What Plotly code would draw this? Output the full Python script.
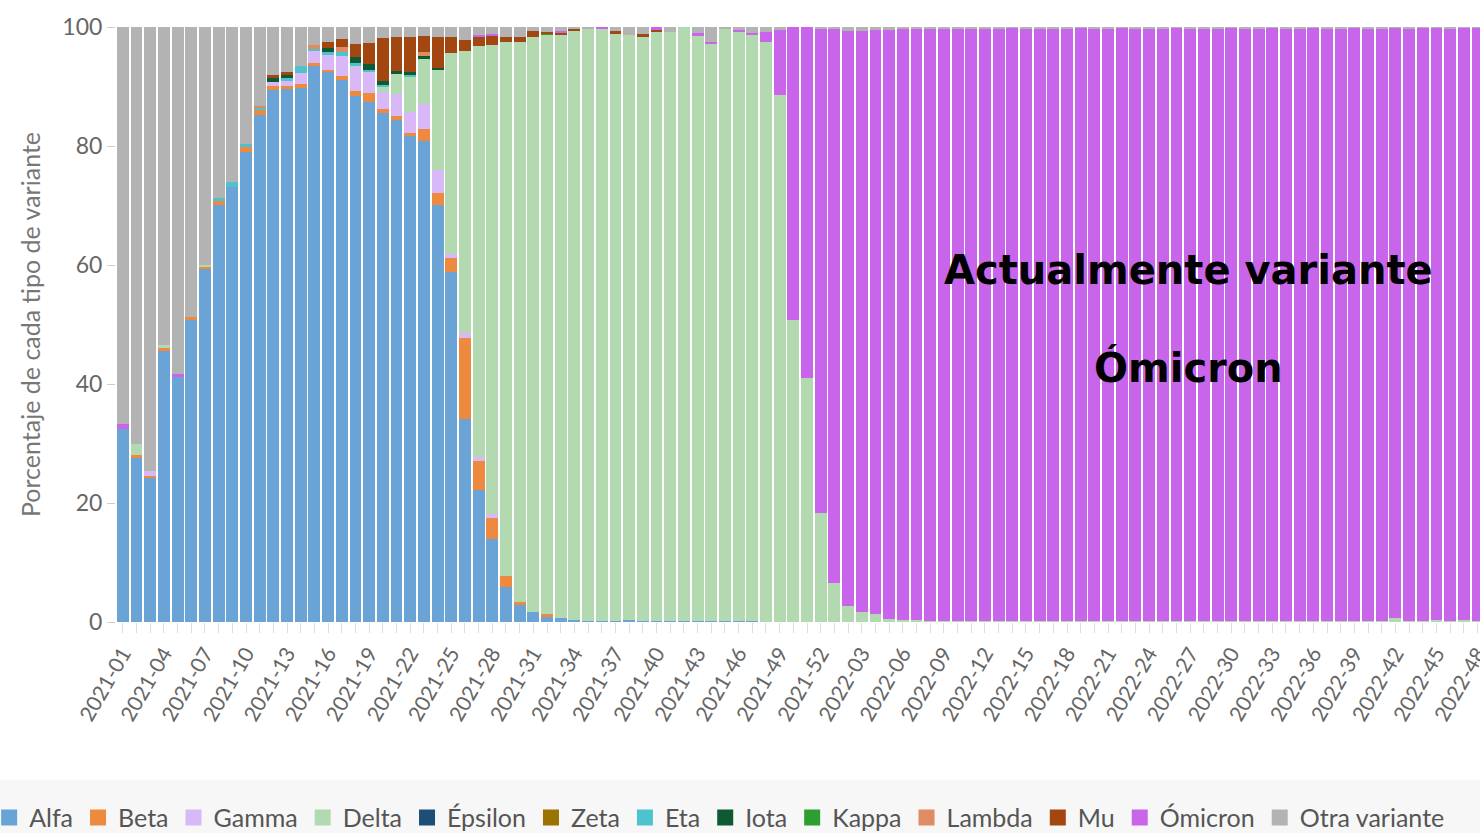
import plotly.graph_objects as go

# ---------------- data ----------------
weeks = [f"2021-{w:02d}" for w in range(1, 53)] + [f"2022-{w:02d}" for w in range(1, 49)]
tick_text = [w if i % 3 == 0 else "" for i, w in enumerate(weeks)]

alfa = [32.5, 27.5, 24.2, 45.6, 41.2, 50.8, 59.3, 70.1, 73.1, 79.0,
        85.2, 89.4, 89.5, 89.8, 93.5, 92.4, 91.1, 88.4, 87.4, 85.6,
        84.4, 81.6, 80.8, 70.1, 58.8, 34.2, 22.2, 13.9, 5.9, 3.0,
        1.6, 1.0, 0.6, 0.3, 0.2, 0.2, 0.2, 0.3, 0.2, 0.2,
        0.1, 0.2, 0.1, 0.1, 0.1, 0.1, 0.1, 0, 0, 0,
        0, 0, 0, 0, 0, 0, 0, 0, 0, 0,
        0, 0, 0, 0, 0, 0, 0, 0, 0, 0,
        0, 0, 0, 0, 0, 0, 0, 0, 0, 0,
        0, 0, 0, 0, 0, 0, 0, 0, 0, 0,
        0, 0, 0, 0, 0, 0, 0, 0, 0, 0]
beta = [0, 0.5, 0.4, 0.5, 0, 0.4, 0.4, 0.6, 0, 0.8,
        0.8, 0.7, 0.6, 0.6, 0.5, 0.4, 0.6, 0.9, 1.5, 0.6,
        0.7, 0.6, 2.1, 2.0, 2.3, 13.6, 4.9, 3.5, 1.8, 0.3,
        0, 0.3, 0, 0, 0, 0, 0, 0, 0, 0,
        0, 0, 0, 0, 0, 0, 0, 0, 0, 0,
        0, 0, 0, 0, 0, 0, 0, 0, 0, 0,
        0, 0, 0, 0, 0, 0, 0, 0, 0, 0,
        0, 0, 0, 0, 0, 0, 0, 0, 0, 0,
        0, 0, 0, 0, 0, 0, 0, 0, 0, 0,
        0, 0, 0, 0, 0, 0, 0, 0, 0, 0]
gamma = [0, 0, 0.8, 0, 0, 0, 0, 0, 0, 0,
         0, 0.7, 0.9, 1.9, 1.9, 2.5, 3.5, 3.9, 3.5, 2.8,
         3.6, 3.5, 4.2, 3.8, 0.8, 0.7, 0.7, 0.8, 0, 0,
         0, 0, 0, 0, 0, 0, 0, 0, 0, 0,
         0, 0, 0, 0, 0, 0, 0, 0, 0, 0,
         0, 0, 0, 0, 0, 0, 0, 0, 0, 0,
         0, 0, 0, 0, 0, 0, 0, 0, 0, 0,
         0, 0, 0, 0, 0, 0, 0, 0, 0, 0,
         0, 0, 0, 0, 0, 0, 0, 0, 0, 0,
         0, 0, 0, 0, 0, 0, 0, 0, 0, 0]
delta = [0, 2.0, 0, 0.4, 0, 0, 0.3, 0, 0, 0,
         0, 0, 0, 0, 0, 0, 0, 0.4, 0, 1.0,
         3.4, 5.9, 7.6, 16.9, 33.7, 47.5, 69.0, 78.8, 89.7, 94.2,
         96.7, 97.4, 98.2, 99.0, 99.4, 99.4, 98.7, 98.4, 98.2, 99.0,
         99.1, 99.8, 98.4, 97.1, 99.7, 99.0, 98.6, 97.4, 88.6, 50.8,
         41.0, 18.3, 6.6, 2.7, 1.7, 1.3, 0.5, 0.4, 0.3, 0.2,
         0.2, 0.1, 0.1, 0.2, 0.1, 0.1, 0.1, 0.1, 0.2, 0.1,
         0.1, 0.1, 0.1, 0.1, 0.1, 0.1, 0.2, 0.1, 0.1, 0.1,
         0.1, 0.1, 0.1, 0.1, 0.1, 0.1, 0.1, 0.1, 0.1, 0.1,
         0.1, 0.1, 0.2, 0.6, 0.1, 0.1, 0.3, 0.1, 0.4, 0.1]
epsilon = [0, 0, 0, 0, 0, 0, 0, 0, 0, 0,
           0, 0, 0, 0, 0, 0, 0, 0, 0, 0,
           0, 0, 0, 0, 0, 0, 0, 0, 0, 0,
           0, 0, 0, 0, 0, 0, 0, 0, 0, 0,
           0, 0, 0, 0, 0, 0, 0, 0, 0, 0,
           0, 0, 0, 0, 0, 0, 0, 0, 0, 0,
           0, 0, 0, 0, 0, 0, 0, 0, 0, 0,
           0, 0, 0, 0, 0, 0, 0, 0, 0, 0,
           0, 0, 0, 0, 0, 0, 0, 0, 0, 0,
           0, 0, 0, 0, 0, 0, 0, 0, 0, 0]
zeta = [0, 0, 0, 0, 0, 0, 0, 0, 0, 0,
        0, 0, 0, 0, 0, 0, 0, 0, 0, 0,
        0, 0, 0, 0, 0, 0, 0, 0, 0, 0,
        0, 0, 0, 0, 0, 0, 0, 0, 0, 0,
        0, 0, 0, 0, 0, 0, 0, 0, 0, 0,
        0, 0, 0, 0, 0, 0, 0, 0, 0, 0,
        0, 0, 0, 0, 0, 0, 0, 0, 0, 0,
        0, 0, 0, 0, 0, 0, 0, 0, 0, 0,
        0, 0, 0, 0, 0, 0, 0, 0, 0, 0,
        0, 0, 0, 0, 0, 0, 0, 0, 0, 0]
eta = [0, 0, 0, 0, 0, 0, 0, 0.5, 0.8, 0.6,
       0.5, 0, 0.4, 1.2, 0.4, 0.5, 0.6, 0.3, 0.4, 0.3,
       0, 0.3, 0, 0, 0, 0, 0, 0, 0, 0,
       0, 0, 0, 0, 0, 0, 0, 0, 0, 0,
       0, 0, 0, 0, 0, 0, 0, 0, 0, 0,
       0, 0, 0, 0, 0, 0, 0, 0, 0, 0,
       0, 0, 0, 0, 0, 0, 0, 0, 0, 0,
       0, 0, 0, 0, 0, 0, 0, 0, 0, 0,
       0, 0, 0, 0, 0, 0, 0, 0, 0, 0,
       0, 0, 0, 0, 0, 0, 0, 0, 0, 0]
iota = [0, 0, 0, 0, 0, 0, 0, 0, 0, 0,
        0, 0.6, 0.5, 0, 0, 0.6, 0, 1.1, 0.9, 0.6,
        0.5, 0.5, 0.5, 0.3, 0, 0, 0, 0, 0, 0,
        0, 0, 0, 0, 0, 0, 0, 0, 0, 0,
        0, 0, 0, 0, 0, 0, 0, 0, 0, 0,
        0, 0, 0, 0, 0, 0, 0, 0, 0, 0,
        0, 0, 0, 0, 0, 0, 0, 0, 0, 0,
        0, 0, 0, 0, 0, 0, 0, 0, 0, 0,
        0, 0, 0, 0, 0, 0, 0, 0, 0, 0,
        0, 0, 0, 0, 0, 0, 0, 0, 0, 0]
kappa = [0, 0, 0, 0, 0, 0, 0, 0, 0, 0,
         0, 0, 0, 0, 0, 0, 0, 0, 0, 0,
         0, 0, 0, 0, 0, 0, 0, 0, 0, 0,
         0, 0.2, 0, 0, 0, 0, 0, 0, 0, 0,
         0, 0, 0, 0, 0, 0, 0, 0, 0, 0,
         0, 0, 0, 0, 0, 0, 0, 0, 0, 0,
         0, 0, 0, 0, 0, 0, 0, 0, 0, 0,
         0, 0, 0, 0, 0, 0, 0, 0, 0, 0,
         0, 0, 0, 0, 0, 0, 0, 0, 0, 0,
         0, 0, 0, 0, 0, 0, 0, 0, 0, 0]
lambda_ = [0, 0, 0, 0, 0, 0, 0, 0, 0, 0,
           0.3, 0, 0, 0, 0.6, 0, 0.9, 0, 0, 0,
           0, 0, 0.6, 0, 0, 0, 0, 0, 0, 0,
           0, 0, 0, 0, 0, 0, 0, 0, 0, 0,
           0, 0, 0, 0, 0, 0, 0, 0, 0, 0,
           0, 0, 0, 0, 0, 0, 0, 0, 0, 0,
           0, 0, 0, 0, 0, 0, 0, 0, 0, 0,
           0, 0, 0, 0, 0, 0, 0, 0, 0, 0,
           0, 0, 0, 0, 0, 0, 0, 0, 0, 0,
           0, 0, 0, 0, 0, 0, 0, 0, 0, 0]
mu = [0, 0, 0, 0, 0, 0, 0, 0, 0, 0,
      0, 0.5, 0.5, 0, 0, 1.1, 1.3, 2.1, 3.6, 7.3,
      5.7, 5.9, 2.7, 5.2, 2.8, 1.9, 1.6, 1.6, 1.0, 0.9,
      1.0, 0.2, 0.2, 0.4, 0, 0, 0.4, 0, 0.4, 0.3,
      0, 0, 0, 0, 0, 0, 0, 0, 0, 0,
      0, 0, 0, 0, 0, 0, 0, 0, 0, 0,
      0, 0, 0, 0, 0, 0, 0, 0, 0, 0,
      0, 0, 0, 0, 0, 0, 0, 0, 0, 0,
      0, 0, 0, 0, 0, 0, 0, 0, 0, 0,
      0, 0, 0, 0, 0, 0, 0, 0, 0, 0]
omicron = [0.8, 0, 0, 0, 0.4, 0, 0, 0, 0, 0,
           0, 0, 0, 0, 0, 0, 0, 0, 0, 0,
           0, 0, 0, 0, 0, 0, 0.3, 0.2, 0, 0,
           0, 0, 0.3, 0, 0, 0.4, 0, 0, 0, 0.5,
           0, 0, 0.55, 0.3, 0, 0.45, 0.3, 1.8, 10.9, 49.2,
           59.0, 81.5, 93.2, 96.7, 97.7, 98.2, 99.0, 99.2, 99.4, 99.5,
           99.5, 99.6, 99.7, 99.5, 99.7, 99.8, 99.7, 99.7, 99.6, 99.7,
           99.8, 99.7, 99.7, 99.8, 99.7, 99.7, 99.6, 99.8, 99.7, 99.7,
           99.7, 99.8, 99.7, 99.7, 99.8, 99.7, 99.7, 99.8, 99.7, 99.7,
           99.8, 99.7, 99.6, 99.3, 99.7, 99.8, 99.6, 99.7, 99.5, 99.8]
otra = [66.7, 70.0, 74.6, 53.5, 58.4, 48.8, 40.0, 28.8, 26.1, 19.6,
        13.2, 8.1, 7.6, 6.5, 3.1, 2.5, 2.0, 2.9, 2.7, 1.8,
        1.7, 1.7, 1.5, 1.7, 1.6, 2.1, 1.3, 1.2, 1.6, 1.6,
        0.7, 0.9, 0.7, 0.3, 0.4, 0.0, 0.7, 1.3, 1.2, 0.0,
        0.8, 0.0, 0.95, 2.5, 0.2, 0.45, 1.0, 0.8, 0.5, 0.0,
        0.0, 0.2, 0.2, 0.6, 0.6, 0.5, 0.5, 0.4, 0.3, 0.3,
        0.3, 0.3, 0.2, 0.3, 0.2, 0.1, 0.2, 0.2, 0.2, 0.2,
        0.1, 0.2, 0.2, 0.1, 0.2, 0.2, 0.2, 0.1, 0.2, 0.2,
        0.2, 0.1, 0.2, 0.2, 0.1, 0.2, 0.2, 0.1, 0.2, 0.2,
        0.1, 0.2, 0.2, 0.1, 0.2, 0.1, 0.1, 0.2, 0.1, 0.1]

series_names = ["Alfa", "Beta", "Gamma", "Delta", "Épsilon", "Zeta", "Eta",
                "Iota", "Kappa", "Lambda", "Mu", "Ómicron", "Otra variante"]
series_values = [alfa, beta, gamma, delta, epsilon, zeta, eta,
                 iota, kappa, lambda_, mu, omicron, otra]
series_colors = ["#6aa3d6", "#ee8a3f", "#d9b8f7", "#b3d9b0", "#1d4e78", "#9b7300",
                 "#4fc3cd", "#0d5a33", "#2f9e30", "#df8b64", "#a2470f", "#c965eb",
                 "#b4b3b3"]

# ---------------- figure ----------------
fig = go.Figure()
for name, vals, col in zip(series_names, series_values, series_colors):
    fig.add_trace(go.Bar(x=weeks, y=vals, name=name, legendgroup=name, showlegend=False,
                         marker=dict(color=col, line=dict(width=0))))
# legend entries (larger square swatches)
for name, col in zip(series_names, series_colors):
    fig.add_trace(go.Scatter(x=[None], y=[None], mode="markers", name=name,
                             legendgroup=name, showlegend=True, hoverinfo="skip",
                             marker=dict(symbol="square", size=16, color=col,
                                         line=dict(width=0))))

fig.update_layout(
    width=1480, height=833,
    barmode="stack", bargap=0.13,
    plot_bgcolor="white", paper_bgcolor="white",
    margin=dict(l=116, r=0, t=27, b=211, autoexpand=False),
    font=dict(family="Lato, sans-serif", color="#666"),
    showlegend=True,
    legend=dict(orientation="h", x=-0.093, xanchor="left", y=-0.329, yanchor="middle",
                traceorder="normal", font=dict(size=25, color="#555"),
                bgcolor="rgba(0,0,0,0)", itemclick=False, itemsizing="trace"),
    shapes=[dict(type="rect", xref="paper", yref="paper", x0=-0.2, x1=1.1,
                 y0=-0.2655, y1=-0.5, fillcolor="#f7f7f7", line=dict(width=0),
                 layer="below")],
    annotations=[
        dict(text="Actualmente variante", xref="paper", yref="paper", x=0.786, y=0.5916,
             showarrow=False, xanchor="center", yanchor="middle",
             font=dict(family="DejaVu Sans", size=40, color="black", weight="bold")),
        dict(text="Ómicron", xref="paper", yref="paper", x=0.786, y=0.4269,
             showarrow=False, xanchor="center", yanchor="middle",
             font=dict(family="DejaVu Sans", size=40, color="black", weight="bold")),
    ],
)

fig.update_xaxes(type="category", categoryorder="array", categoryarray=weeks,
                 range=[-0.5, 99.18], tickmode="array", tickvals=weeks, ticktext=tick_text,
                 tickangle=-60, ticks="outside", ticklen=10, tickcolor="#dddddd",
                 tickfont=dict(size=21, color="#666"), showgrid=False, showline=False,
                 zeroline=False, automargin=False)
fig.update_yaxes(range=[0, 100], tickvals=[0, 20, 40, 60, 80, 100],
                 ticks="outside", ticklen=8, tickcolor="#cccccc",
                 tickfont=dict(size=23, color="#666"), showgrid=False, showline=False,
                 zeroline=False, automargin=False,
                 title=dict(text="Porcentaje de cada tipo de variante",
                            font=dict(size=25, color="#777"), standoff=14))

fig.write_html("out.html", config={"displayModeBar": False},
               post_script="document.body.style.margin='0px';"
                           "document.body.style.overflow='hidden';")
